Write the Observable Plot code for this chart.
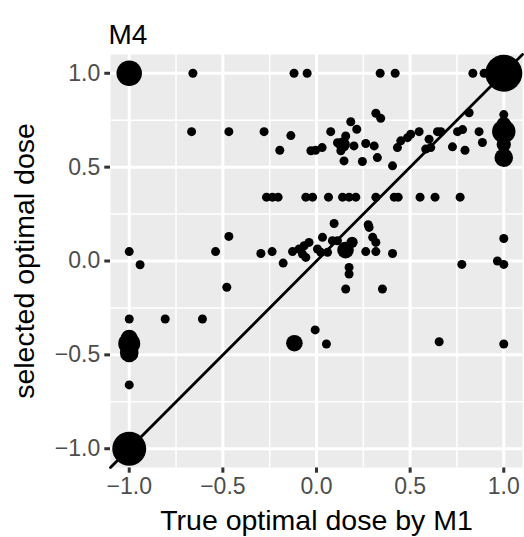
<!DOCTYPE html>
<html>
<head>
<meta charset="utf-8">
<script src="https://cdn.jsdelivr.net/npm/d3@7"></script>
<script src="https://cdn.jsdelivr.net/npm/@observablehq/plot@0.6"></script>
<style>
  html, body { margin: 0; padding: 0; background: white; }
  #chart svg [aria-label^="x-axis"] text, #chart svg [aria-label^="y-axis"] text { font-size: 23px; fill: #4D4D4D; }
  #chart svg [aria-label^="x-axis"] line, #chart svg [aria-label^="y-axis"] line,
  #chart svg [aria-label^="x-axis"] path, #chart svg [aria-label^="y-axis"] path { stroke: #333333; stroke-width: 3px; }
</style>
</head>
<body>
<div id="chart"></div>
<script>
// ---- data ----
const chartTitle = "M4";
const xTitle = "True optimal dose by M1";
const yTitle = "selected optimal dose";
const xTicks = [-1, -0.5, 0, 0.5, 1];
const yTicks = [-1, -0.5, 0, 0.5, 1];
const minorTicks = [-0.75, -0.25, 0.25, 0.75];
const axisDomain = [-1.1, 1.1];

// true dose (x), selected dose (y), count of simulations (n)
const xs = [
  -1, -0.66, -0.12, -0.05, 0.34, 0.42, 0.835, 0.895, 1,
  -0.667, -0.468, -0.28, -0.137, -0.196, -0.03, -0.005, 0.03,
  0.076, 0.183, 0.215, 0.317, 0.343, 0.112, 0.14, 0.156, 0.13, 0.2, 0.147, 0.245, 0.263, 0.308, 0.325, 0.406, 0.432, 0.45, 0.486,
  0.503, 0.548, 0.601, 0.583, 0.61, 0.646, 0.664, 0.753, 0.78, 0.726, 0.793, 0.868, 0.886, 0.815,
  1, 1, 1, 1, 1,
  -0.267, -0.235, -0.205, -0.057, -0.021, 0.064, 0.139, 0.174, 0.21, 0.317, 0.415, 0.436, 0.553, 0.633, 0.767,
  0.094, 0.276,
  -1, -0.942, -0.468, -0.539, -0.479, -0.297, -0.237, -0.178, -0.128, -0.093, -0.075, -0.057, -0.04, -0.066,
  0.005, 0.032, 0.023, 0.059, 0.085, 0.112, 0.155, 0.19, 0.174, 0.174, 0.156, 0.281, 0.3, 0.317, 0.263, 0.317, 0.352, 0.406,
  0.776, 0.966, 1, 1,
  -0.007, 0.053, 0.655, 1, -0.118,
  -1, -0.808, -0.609, -1, -1, -1, -1, -1
];
const ys = [
  1, 1, 1, 1, 1, 1, 1, 1, 1,
  0.689, 0.689, 0.689, 0.668, 0.59, 0.587, 0.59, 0.604,
  0.689, 0.742, 0.702, 0.787, 0.76, 0.63, 0.62, 0.666, 0.587, 0.613, 0.533, 0.53, 0.626, 0.613, 0.551, 0.507, 0.604, 0.64, 0.657,
  0.675, 0.689, 0.649, 0.596, 0.604, 0.689, 0.689, 0.689, 0.70, 0.608, 0.59, 0.689, 0.631, 0.79,
  0.78, 0.73, 0.69, 0.62, 0.55,
  0.34, 0.34, 0.34, 0.34, 0.34, 0.34, 0.34, 0.34, 0.34, 0.34, 0.34, 0.34, 0.34, 0.34, 0.34,
  0.2, 0.193,
  0.05, -0.02, 0.131, 0.05, -0.14, 0.04, 0.05, -0.011, 0.05, 0.064, 0.037, 0.019, 0.099, 0.081,
  0.064, 0.126, 0.046, 0.046, 0.108, 0.108, 0.058, 0.1, -0.034, -0.069, -0.149, 0.179, 0.126, 0.099, 0.05, 0.05, -0.149, 0.04,
  -0.018, 0.0, -0.018, 0.12,
  -0.367, -0.442, -0.43, -0.442, -0.438,
  -0.309, -0.309, -0.309, -0.41, -0.44, -0.49, -0.66, -1
];
const ns = [
  17, 1, 1, 1, 1, 1, 1, 1, 40,
  1, 1, 1, 1, 1, 1, 1, 1,
  1, 1, 1, 1, 1, 1, 4, 1, 1, 1, 1, 1, 1, 1, 1, 1, 1, 1, 1,
  1, 1, 1, 1, 1, 1, 1, 1, 1, 1, 1, 1, 1, 1,
  1, 4, 14, 4, 8,
  1, 1, 1, 1, 1, 1, 1, 1, 1, 1, 1, 1, 1, 1, 1,
  1, 1,
  1, 1, 1, 1, 1, 1, 1, 1, 1, 1, 1, 1, 1, 1,
  1, 1, 1, 1, 1, 1, 6, 2, 1, 1, 1, 1, 1, 1, 1, 1, 1, 1,
  1, 1, 1, 1,
  1, 1, 1, 1, 6,
  1, 1, 1, 6, 12, 8, 1, 33
];

const points = xs.map((x, i) => ({x, y: ys[i], n: ns[i]}));
const diagonal = axisDomain.map(v => ({x: v, y: v}));
const fmt = d3.format(".1f");

const chart = Plot.plot({
  width: 524,
  height: 537,
  marginLeft: 110,
  marginRight: 2,
  marginTop: 54,
  marginBottom: 70,
  style: {background: "white", fontFamily: "'Liberation Sans', Arial, Helvetica, sans-serif", overflow: "visible", color: "black"},
  x: {domain: axisDomain, ticks: xTicks, tickFormat: fmt, tickSize: 5.7, tickPadding: 4.6, label: null},
  y: {domain: axisDomain, ticks: yTicks, tickFormat: fmt, tickSize: 5.7, tickPadding: 4.6, label: null},
  r: {type: "sqrt", domain: [1, 40], range: [4.5, 18.5]},
  marks: [
    Plot.frame({fill: "#EBEBEB", stroke: "none"}),
    Plot.ruleX(minorTicks, {stroke: "white", strokeWidth: 1.5}),
    Plot.ruleY(minorTicks, {stroke: "white", strokeWidth: 1.5}),
    Plot.ruleX(xTicks, {stroke: "white", strokeWidth: 3}),
    Plot.ruleY(yTicks, {stroke: "white", strokeWidth: 3}),
    Plot.line(diagonal, {x: "x", y: "y", stroke: "black", strokeWidth: 2.8}),
    Plot.dot(points, {x: "x", y: "y", r: "n", fill: "black", stroke: "none"}),
    Plot.text([chartTitle], {frameAnchor: "top-left", dx: -2, dy: -19, textAnchor: "start", lineAnchor: "middle", fontSize: 28, fill: "black"}),
    Plot.text([xTitle], {frameAnchor: "bottom", dy: 53, lineAnchor: "middle", fontSize: 28.5, fill: "black"}),
    Plot.text([yTitle], {frameAnchor: "left", dx: -86, rotate: -90, textAnchor: "middle", lineAnchor: "middle", fontSize: 28.5, fill: "black"})
  ]
});
document.getElementById("chart").appendChild(chart);
</script>
</body>
</html>
